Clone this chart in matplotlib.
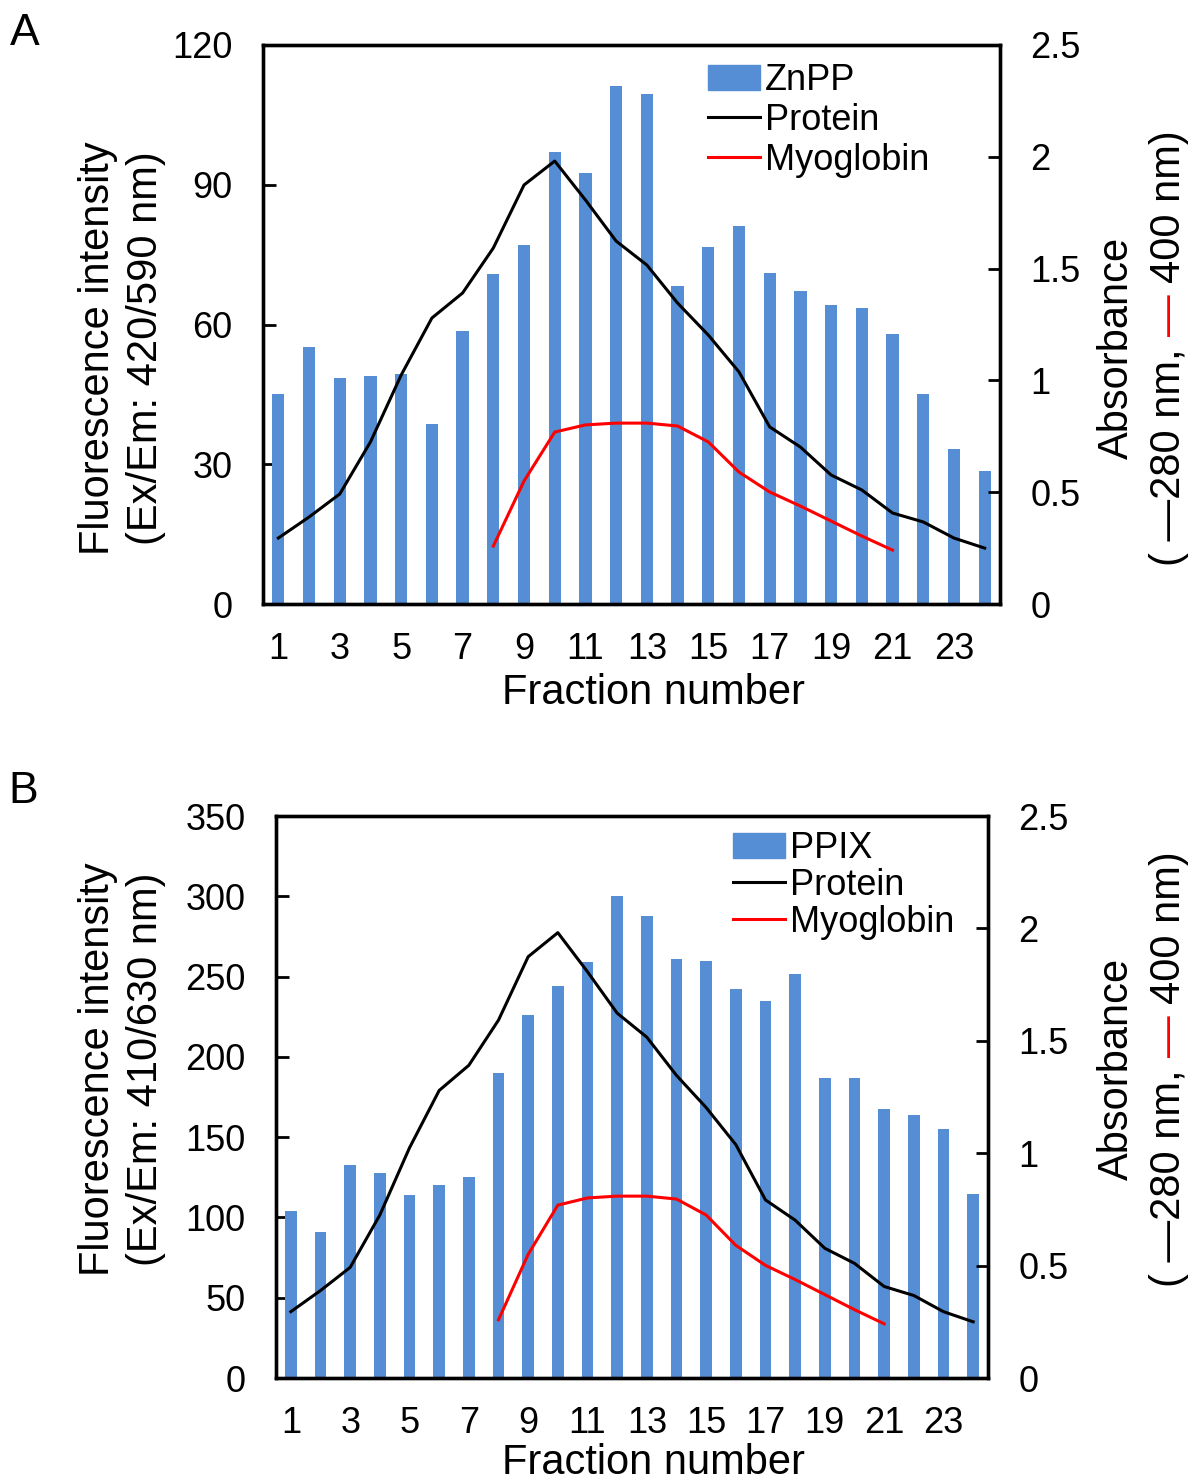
import matplotlib
matplotlib.use("Agg")
import matplotlib.pyplot as plt
from matplotlib.lines import Line2D
from matplotlib.patches import Patch

plt.rcParams["font.family"] = ["Liberation Sans", "DejaVu Sans"]

# ========== data ==========
fractions = list(range(1, 25))
myo_fractions = list(range(8, 22))

znpp = [45.1, 55.2, 48.5, 48.9, 49.4, 38.6, 58.6, 70.8, 77.1, 97.0, 92.5, 111.2,
        109.5, 68.3, 76.6, 81.1, 71.1, 67.2, 64.2, 63.5, 58.0, 45.1, 33.3, 28.6]
ppix = [104, 91, 132.6, 127.6, 114, 120, 125, 190, 226, 244, 259, 300,
        288, 261, 260, 242, 235, 251.6, 187, 187, 167.5, 164, 155, 114.6]
protein = [0.295, 0.389, 0.492, 0.725, 1.024, 1.279, 1.391, 1.592, 1.874, 1.981, 1.807, 1.623,
           1.516, 1.346, 1.203, 1.038, 0.792, 0.702, 0.577, 0.510, 0.407, 0.367, 0.295, 0.250]
myoglobin = [0.259, 0.550, 0.769, 0.801, 0.809, 0.809, 0.796, 0.725, 0.590, 0.501,
             0.438, 0.371, 0.304, 0.241]

xtick_vals = list(range(1, 24, 2))
abs_ticks = [0, 0.5, 1, 1.5, 2, 2.5]
abs_labels = ["0", "0.5", "1", "1.5", "2", "2.5"]

BAR_C = "#558ED5"
W, H = 1196, 1483
TICK_FS = 26
LEG_FS = 26
LABEL_FS = 30

fig = plt.figure(figsize=(W / 100, H / 100), dpi=100)


def fx(x):
    return x / W


def fy(y):
    return 1 - y / H


def colored_abs_label(x_base, yc):
    # second line of the right label, the 400 nm dash in red
    part1 = "( \u2014280 nm,"
    part3 = "400 nm)"
    full = "( \u2014280 nm, \u2014 400 nm)"
    pre = "( \u2014280 nm, \u2014"
    kw = dict(rotation=90, rotation_mode="anchor", ha="left", va="baseline",
              fontsize=LABEL_FS)
    r = fig.canvas.get_renderer()
    lens = {}
    for s in (full, pre, "\u2014", part3):
        t = fig.text(0, 0, s, **kw)
        lens[s] = t.get_window_extent(r).height
        t.remove()
    y0 = (H - yc) - lens[full] / 2
    fig.text(fx(x_base), y0 / H, part1, color="black", **kw)
    fig.text(fx(x_base), (y0 + lens[pre] - lens["\u2014"]) / H, "\u2014", color="red", **kw)
    fig.text(fx(x_base), (y0 + lens[full] - lens[part3]) / H, part3, color="black", **kw)


def panel(box, values, ymax, ystep, name, ylab2, leg_xy, leg_sp, label_yc, letter, letter_xy,
          xlab_off):
    l, t, r, b = box
    ax = fig.add_axes([fx(l), fy(b), fx(r - l), (b - t) / H])
    ax.bar(fractions, values, width=0.4, color=BAR_C, zorder=2)
    ax.set_xlim(0.5, 24.5)
    ax.set_ylim(0, ymax)
    ax.set_yticks(range(0, ymax + 1, ystep))
    ax.set_xticks(xtick_vals)
    ax.tick_params(axis="y", direction="in", length=9, width=2, labelsize=TICK_FS, pad=22)
    ax.tick_params(axis="x", length=0, labelsize=TICK_FS, pad=20)

    ax2 = ax.twinx()
    ax2.plot(fractions, protein, color="black", lw=2.2)
    ax2.plot(myo_fractions, myoglobin, color="red", lw=2.2)
    ax2.set_ylim(0, 2.5)
    ax2.set_yticks(abs_ticks)
    ax2.set_yticklabels(abs_labels)
    ax2.tick_params(axis="y", direction="in", length=9, width=2, labelsize=TICK_FS, pad=22)
    for a in (ax, ax2):
        for s in a.spines.values():
            s.set_linewidth(2.4)

    handles = [Patch(color=BAR_C), Line2D([], [], color="black", lw=2.2),
               Line2D([], [], color="red", lw=2.2)]
    ax2.legend(handles, [name, "Protein", "Myoglobin"], loc="upper left",
               bbox_to_anchor=(fx(leg_xy[0]), fy(leg_xy[1])), bbox_transform=fig.transFigure,
               frameon=False, fontsize=LEG_FS, handlelength=1.45, handletextpad=0.12,
               labelspacing=leg_sp, borderpad=0, borderaxespad=0)

    # axis labels
    lab_kw = dict(rotation=90, rotation_mode="anchor", ha="center", va="baseline",
                  fontsize=LABEL_FS)
    fig.text(fx(109), fy(label_yc), "Fluorescence intensity", **lab_kw)
    fig.text(fx(157), fy(label_yc), ylab2, **lab_kw)
    fig.text(fx(1128), fy(label_yc), "Absorbance", **lab_kw)
    colored_abs_label(1180, label_yc)
    fig.text(fx(654), fy(b + xlab_off), "Fraction number", ha="center", va="baseline",
             fontsize=LABEL_FS)
    fig.text(fx(letter_xy[0]), fy(letter_xy[1]), letter, ha="left", va="baseline",
             fontsize=32)


panel((263, 45, 1000, 604), znpp, 120, 30, "ZnPP", "(Ex/Em: 420/590 nm)",
      (708, 63), 0.14, 348, "A", (10, 45), 100)
panel((276, 816, 988, 1378), ppix, 350, 50, "PPIX", "(Ex/Em: 410/630 nm)",
      (733, 831), 0.05, 1069, "B", (8, 803), 96)

fig.savefig("out.png", dpi=100)
